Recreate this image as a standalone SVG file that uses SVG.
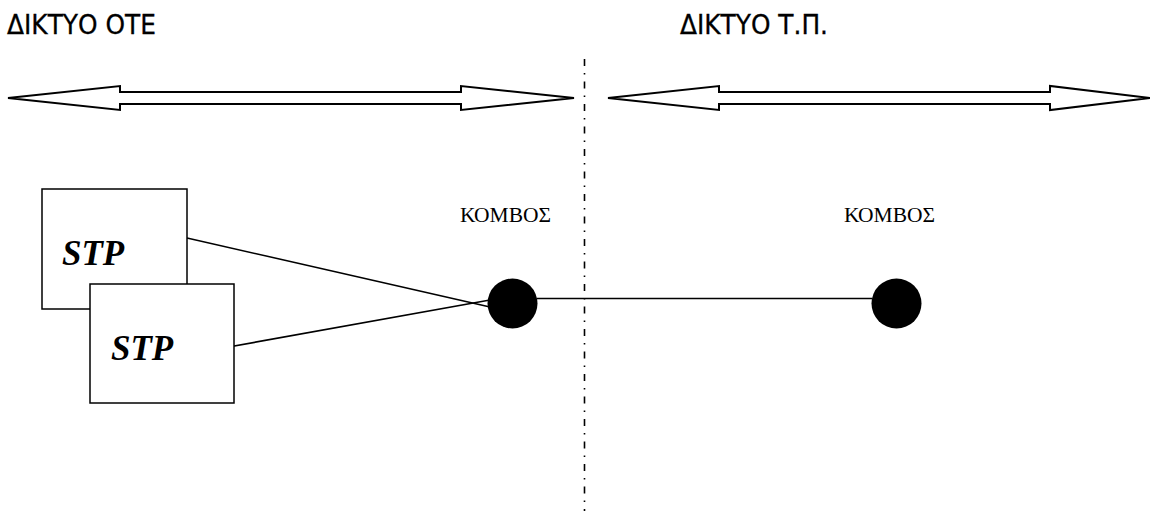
<svg xmlns="http://www.w3.org/2000/svg" width="1150" height="511" viewBox="0 0 1150 511">
  <style>
    .title { font-family: "DejaVu Sans", Verdana, sans-serif; font-size: 26px; fill: #000; stroke: #000; stroke-width: 0.3; }
    .label { font-family: "Liberation Serif", "Times New Roman", serif; font-size: 22px; fill: #000; }
    .stp { font-family: "Liberation Serif", "Times New Roman", serif; font-size: 35px; font-weight: bold; font-style: italic; fill: #000; }
    .span { fill: #fff; stroke: #000; stroke-width: 2; stroke-linejoin: miter; }
    .box { fill: #fff; stroke: #000; stroke-width: 1.5; }
    .link { stroke: #000; stroke-width: 1.6; fill: none; }
    .node { fill: #000; }
    .border { stroke: #000; stroke-width: 1.6; stroke-dasharray: 7 7 1.5 7; fill: none; }
  </style>

  <!-- network titles -->
  <text class="title" x="7" y="34" textLength="149" lengthAdjust="spacingAndGlyphs">ΔΙΚΤΥΟ ΟΤΕ</text>
  <text class="title" x="680" y="34" textLength="148" lengthAdjust="spacingAndGlyphs">ΔΙΚΤΥΟ Τ.Π.</text>

  <!-- double-headed span arrows -->
  <polygon class="span" points="8,98 120,86 120,92 461,92 461,86 574,98 461,110 461,104 120,104 120,110"/>
  <polygon class="span" points="608,98 719,86 719,92 1050,92 1050,86 1150,98 1050,110 1050,104 719,104 719,110"/>

  <!-- boundary between the two networks -->
  <line class="border" x1="584.5" y1="59" x2="584.5" y2="511"/>

  <!-- connectors -->
  <g id="connectors">
    <line class="link" x1="187" y1="238" x2="490" y2="307"/>
    <line class="link" x1="223" y1="348" x2="490" y2="300"/>
    <line class="link" x1="537" y1="298.5" x2="872" y2="298.5"/>
  </g>

  <g id="stp1">
    <rect class="box" x="42" y="189" width="145" height="120"/>
    <text class="stp" x="62" y="265">STP</text>
  </g>
  <g id="stp2">
    <rect class="box" x="90" y="284" width="144" height="119"/>
    <text class="stp" x="111" y="360">STP</text>
  </g>

  <g id="node-ote">
    <text class="label" x="460" y="222" textLength="91" lengthAdjust="spacingAndGlyphs">ΚΟΜΒΟΣ</text>
    <circle class="node" cx="512.5" cy="303.5" r="25"/>
  </g>
  <g id="node-tp">
    <text class="label" x="844" y="222" textLength="91" lengthAdjust="spacingAndGlyphs">ΚΟΜΒΟΣ</text>
    <circle class="node" cx="896.5" cy="303.5" r="25"/>
  </g>
</svg>
